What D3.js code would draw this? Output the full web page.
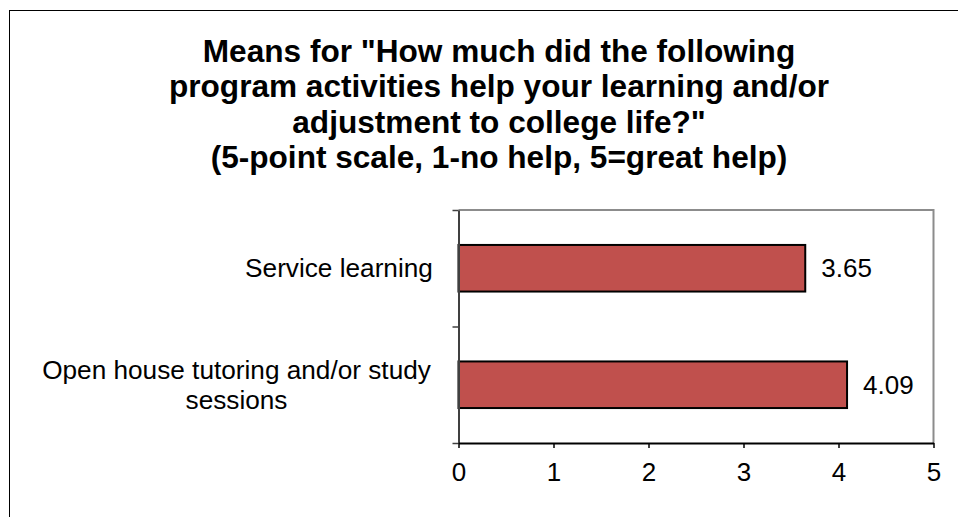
<!DOCTYPE html>
<html lang="en">
<head>
  <meta charset="UTF-8">
  <title>Means for program activities</title>
  <script src="https://d3js.org/d3.v7.min.js"></script>
  <style>
    body { margin: 0; background: #fff; }
    svg text { font-family: Arial, "Liberation Sans", sans-serif; fill: #000; }
  </style>
</head>
<body>
  <div id="chart"></div>
  <script>
    // chart data
    const titleLines = [
      'Means for "How much did the following',
      'program activities help your learning and/or',
      'adjustment to college life?"',
      '(5-point scale, 1-no help, 5=great help)'
    ];
    const categories = ["Service learning", "Open house tutoring and/or study sessions"];
    const categoryLines = [["Service learning"], ["Open house tutoring and/or study", "sessions"]];
    const means = [3.65, 4.09];
    const xTicks = [0, 1, 2, 3, 4, 5];

    const width = 958, height = 517;
    const plot = { left: 458.5, right: 933.5, top: 210, bottom: 443 };

    const svg = d3.select("#chart").append("svg")
      .attr("width", width)
      .attr("height", height);

    // outer chart border (runs off the right and bottom of the picture)
    svg.append("rect")
      .attr("x", 9.5).attr("y", 10.5)
      .attr("width", 1000).attr("height", 600)
      .attr("fill", "none")
      .attr("stroke", "#000")
      .attr("stroke-width", 1);

    // title
    svg.append("text")
      .attr("text-anchor", "middle")
      .attr("font-size", 31.6)
      .attr("font-weight", "bold")
      .selectAll("tspan")
      .data(titleLines)
      .join("tspan")
      .attr("x", 499)
      .attr("y", (d, i) => 62 + i * 35.3)
      .text(d => d);

    // scales
    const x = d3.scaleLinear().domain([0, 5]).range([plot.left, plot.right]);
    const y = d3.scaleBand().domain(categories)
      .range([plot.top, plot.bottom])
      .paddingInner(0.6).paddingOuter(0.3);

    // plot area frame: top and right in grey
    svg.append("path")
      .attr("d", `M${plot.left},${plot.top}H${plot.right}V${plot.bottom}`)
      .attr("fill", "none")
      .attr("stroke", "#8c8c8c")
      .attr("stroke-width", 2);

    // bars
    svg.selectAll("rect.bar")
      .data(categories)
      .join("rect")
      .attr("class", "bar")
      .attr("x", x(0))
      .attr("y", d => y(d))
      .attr("width", (d, i) => x(means[i]) - x(0))
      .attr("height", y.bandwidth())
      .attr("fill", "#C0504D")
      .attr("stroke", "#000")
      .attr("stroke-width", 2);

    // value labels
    svg.selectAll("text.value")
      .data(categories)
      .join("text")
      .attr("class", "value")
      .attr("x", (d, i) => x(means[i]) + 16)
      .attr("y", d => y(d) + y.bandwidth() / 2)
      .attr("dy", "0.35em")
      .attr("font-size", 26)
      .text((d, i) => means[i].toFixed(2));

    // category axis: ticks sit on the band boundaries
    const yEdges = d3.scaleLinear().domain([0, categories.length]).range([plot.top, plot.bottom]);
    const yAxis = svg.append("g")
      .attr("transform", `translate(${plot.left},0)`)
      .call(d3.axisLeft(yEdges).ticks(categories.length).tickSize(6).tickSizeOuter(0).tickFormat(""));
    yAxis.select(".domain").attr("stroke", "#404040").attr("stroke-width", 2);
    yAxis.selectAll(".tick line").attr("stroke", "#404040").attr("stroke-width", 1.5);

    // category labels (centred block, right edge near the axis)
    svg.selectAll("text.cat")
      .data(categories)
      .join("text")
      .attr("class", "cat")
      .attr("text-anchor", "middle")
      .attr("font-size", 26.2)
      .each(function(d, i) {
        const lines = categoryLines[i];
        const cy = y(d) + y.bandwidth() / 2;
        const t = d3.select(this);
        lines.forEach((line, j) => {
          t.append("tspan")
            .attr("x", i === 0 ? 339 : 236.5)
            .attr("y", cy + 9 + (j - (lines.length - 1) / 2) * 30)
            .text(line);
        });
      });

    // value axis
    const xAxis = svg.append("g")
      .attr("transform", `translate(0,${plot.bottom})`)
      .call(d3.axisBottom(x).tickValues(xTicks).tickSize(5).tickSizeOuter(0).tickPadding(15).tickFormat(d3.format("d")));
    xAxis.select(".domain").attr("stroke", "#000").attr("stroke-width", 2);
    xAxis.selectAll(".tick line").attr("stroke", "#000").attr("stroke-width", 1.5);
    xAxis.selectAll(".tick text")
      .attr("font-size", 26)
      .attr("font-family", "Arial, 'Liberation Sans', sans-serif")
      .attr("fill", "#000");
  </script>
</body>
</html>
